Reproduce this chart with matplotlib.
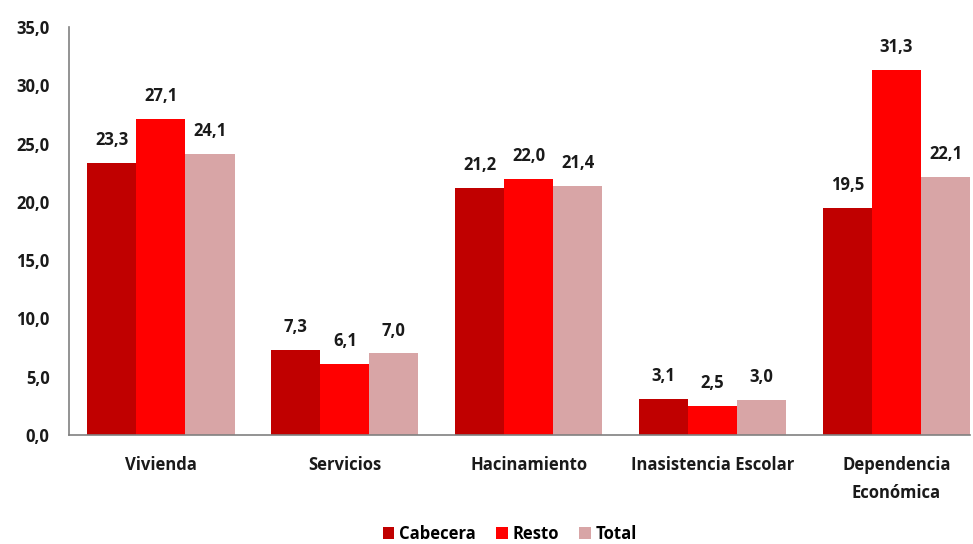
import matplotlib.pyplot as plt
import numpy as np

plt.rcParams['font.family'] = ['Open Sans', 'DejaVu Sans']
plt.rcParams['font.weight'] = 'bold'

categories = ['Vivienda', 'Servicios', 'Hacinamiento', 'Inasistencia Escolar', 'Dependencia\nEconómica']
cabecera = [23.3, 7.3, 21.2, 3.1, 19.5]
resto = [27.1, 6.1, 22.0, 2.5, 31.3]
total = [24.1, 7.0, 21.4, 3.0, 22.1]
series = [('Cabecera', cabecera, '#C00000'),
          ('Resto', resto, '#FF0000'),
          ('Total', total, '#D8A5A6')]

fig = plt.figure(figsize=(9.73, 5.44), dpi=100)
ax = fig.add_axes([69 / 973, 109 / 544, (970 - 69) / 973, (435 - 27) / 544])

x = np.arange(len(categories))
w = 0.267
for i, (name, vals, col) in enumerate(series):
    pos = x + (i - 1) * w
    ax.bar(pos, vals, w, color=col, label=name)
    for p, v in zip(pos, vals):
        ax.annotate(f'{v:.1f}'.replace('.', ','), (p, v), xytext=(0, 10),
                    textcoords='offset points', ha='center', va='bottom',
                    fontsize=12, fontweight='bold', color='#1a1a1a')

ax.set_xlim(-0.5, 4.4)
ax.set_ylim(0, 35)
ax.set_yticks(np.arange(0, 36, 5))
ax.set_yticklabels([f'{t:.1f}'.replace('.', ',') for t in np.arange(0, 36, 5)])
ax.set_xticks(x)
ax.set_xticklabels(categories, linespacing=1.7)
ax.tick_params(length=0, labelsize=12, colors='#1a1a1a')
ax.tick_params(axis='x', pad=15)
ax.tick_params(axis='y', pad=14)
for s in ['top', 'right']:
    ax.spines[s].set_visible(False)
for s in ['left', 'bottom']:
    ax.spines[s].set_color('#808080')
    ax.spines[s].set_linewidth(1.2)

fig.legend(loc='lower center', bbox_to_anchor=(0.524, -0.025), ncol=3, frameon=False,
           fontsize=12, handlelength=0.7, handleheight=0.7, handletextpad=0.3,
           columnspacing=1.2)

fig.savefig('out.png', dpi=100)
